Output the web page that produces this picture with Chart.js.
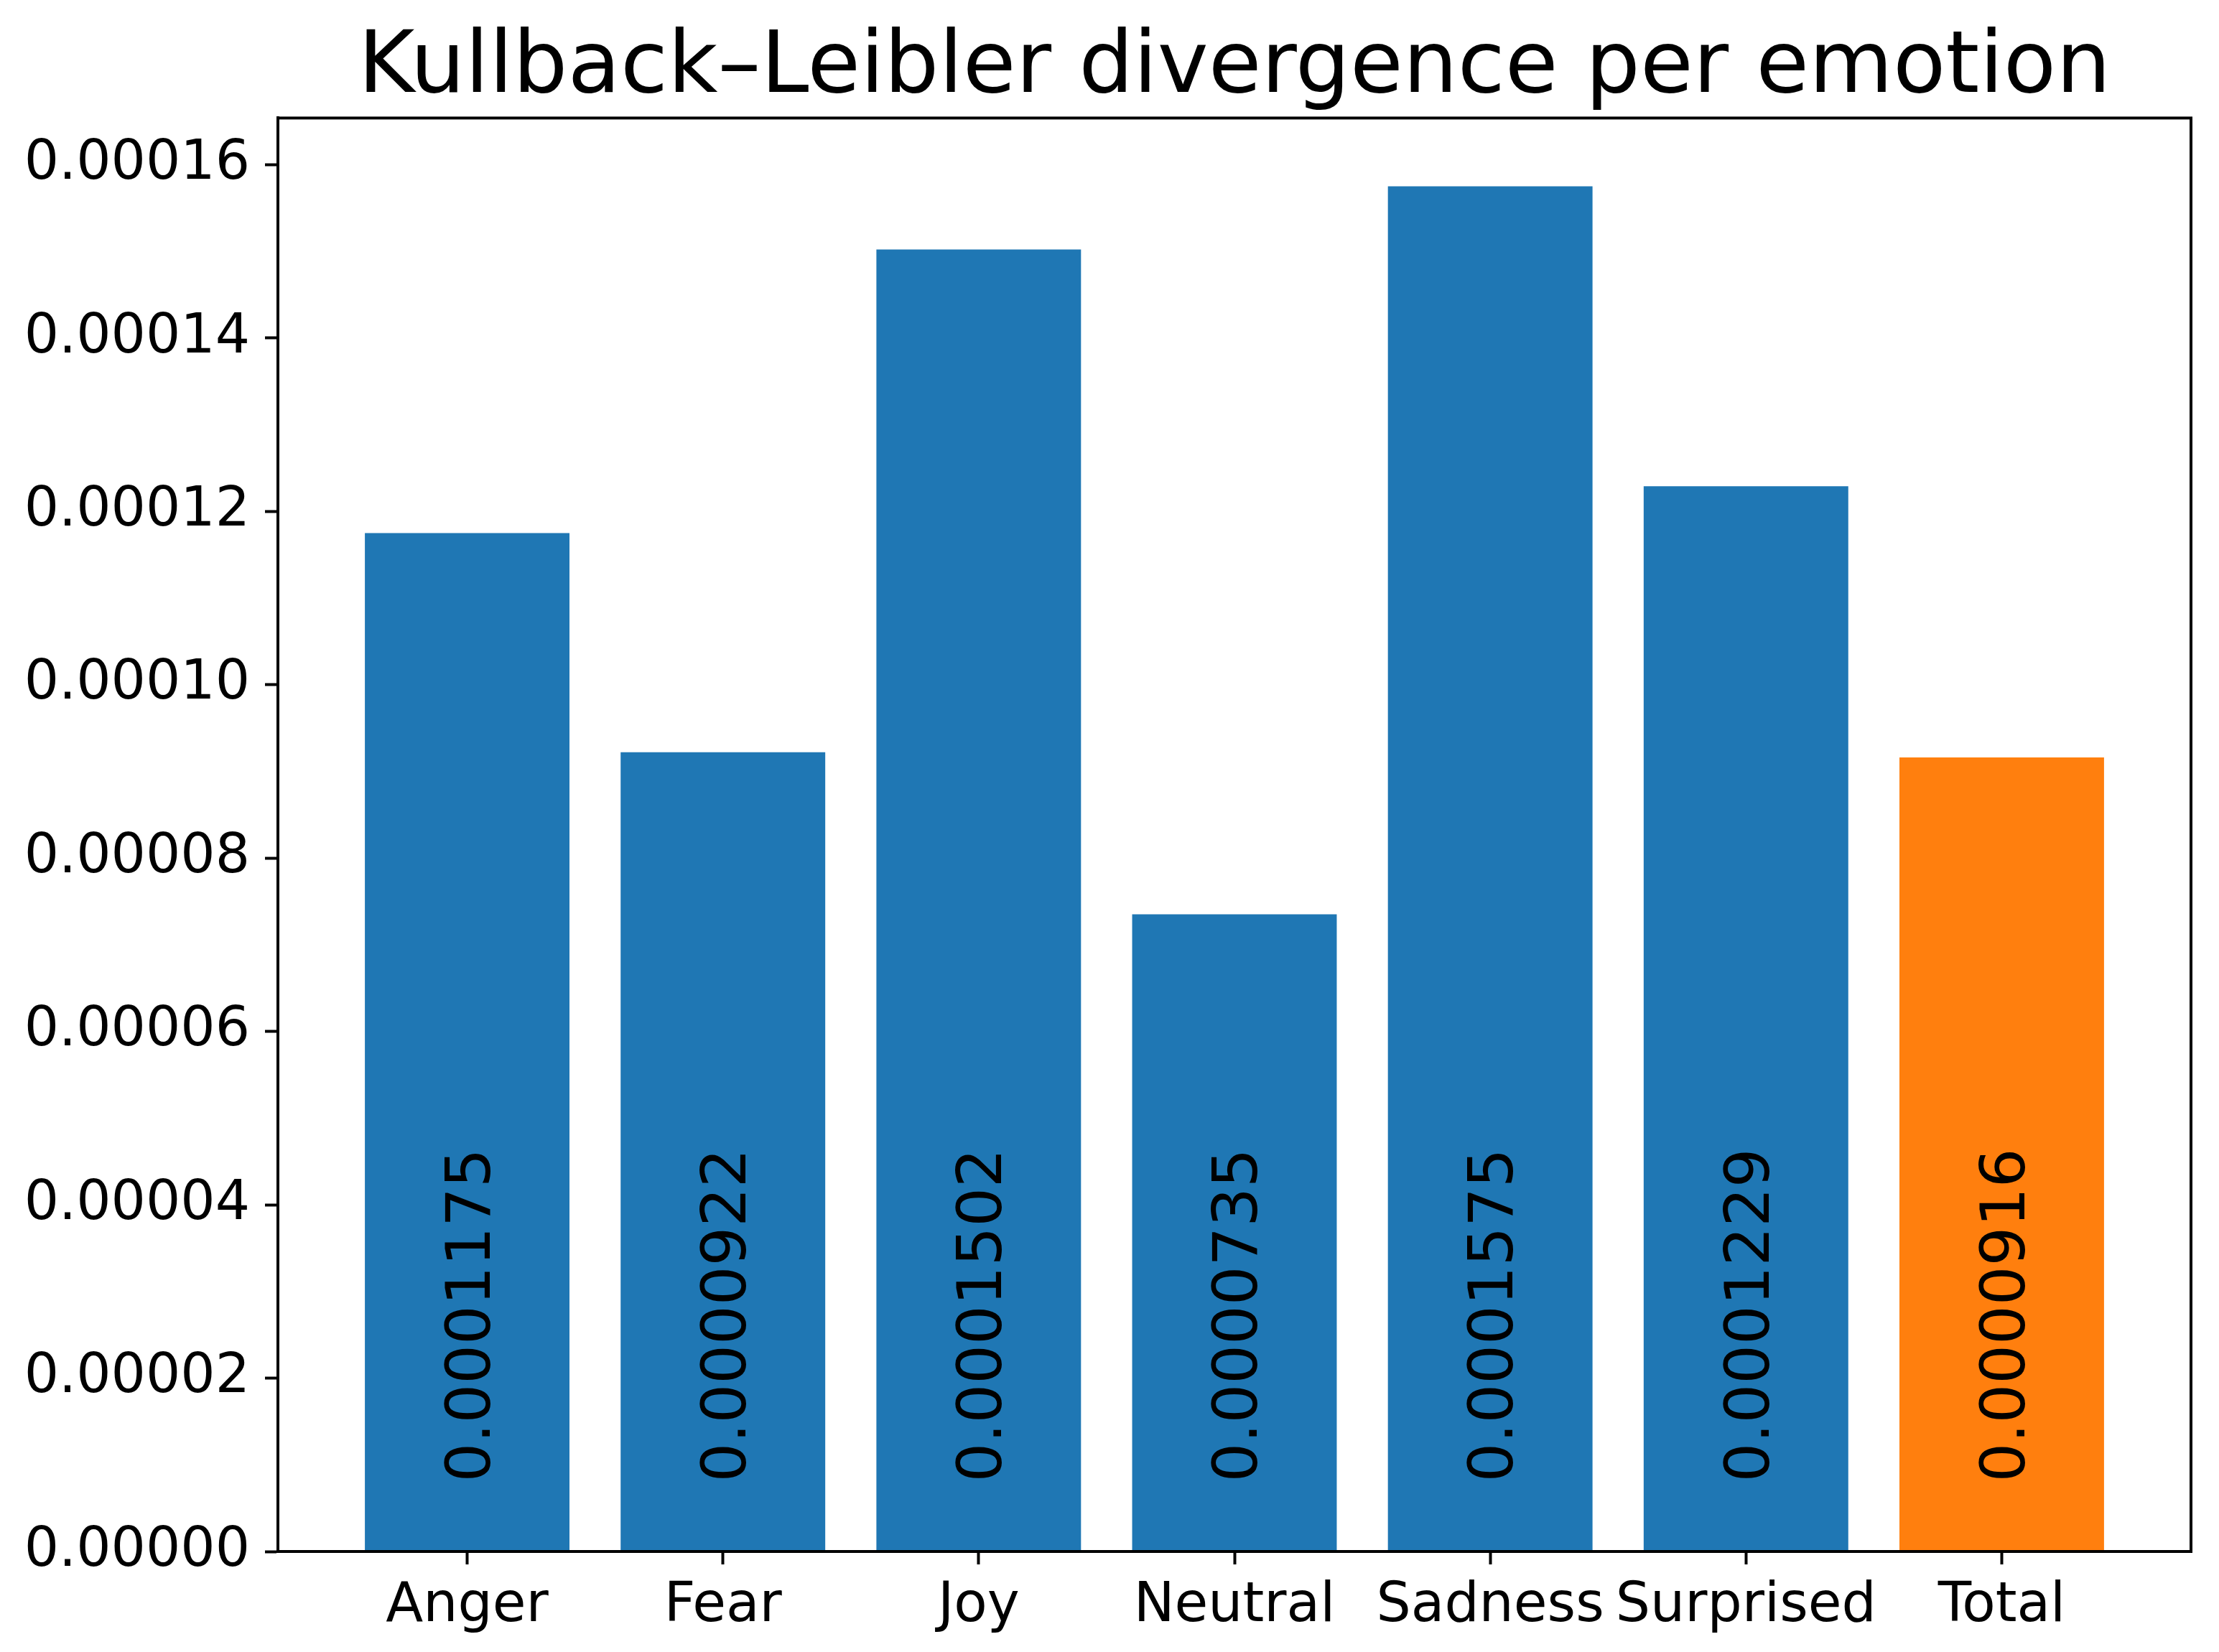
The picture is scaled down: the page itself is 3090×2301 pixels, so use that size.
<!DOCTYPE html>
<html>
<head>
<meta charset="utf-8">
<script src="https://cdn.jsdelivr.net/npm/chart.js@4.4.1/dist/chart.umd.min.js"></script>
<style>
html, body { margin: 0; padding: 0; background: #ffffff; }
canvas { display: block; }
</style>
</head>
<body>
<canvas id="c" width="3090" height="2301" style="width:3090px;height:2301px"></canvas>
<script>
const titleText = 'Kullback–Leibler divergence per emotion';
const categories = ['Anger', 'Fear', 'Joy', 'Neutral', 'Sadness', 'Surprised', 'Total'];
const values = [0.0001175, 0.0000922, 0.0001502, 0.0000735, 0.0001575, 0.0001229, 0.0000916];
const valueLabels = ['0.0001175', '0.0000922', '0.0001502', '0.0000735', '0.0001575', '0.0001229', '0.0000916'];
const barColors = ['#1f77b4', '#1f77b4', '#1f77b4', '#1f77b4', '#1f77b4', '#1f77b4', '#ff7f0e'];
const yTicks = [0, 0.00002, 0.00004, 0.00006, 0.00008, 0.00010, 0.00012, 0.00014, 0.00016];
const yTickLabels = ['0.00000', '0.00002', '0.00004', '0.00006', '0.00008', '0.00010', '0.00012', '0.00014', '0.00016'];

const FONT = '"DejaVu Sans", "Liberation Sans", sans-serif';
const TICK_SIZE = 76;
const LABEL_SIZE = 86;

// matplotlib-like limits: bar width 0.8, 5% margins
const barWidth = 0.8;
const xSpan = (categories.length - 1) + barWidth;
const xMin = -barWidth / 2 - 0.05 * xSpan;
const xMax = (categories.length - 1) + barWidth / 2 + 0.05 * xSpan;
const yMax = Math.max(...values) * 1.05;

const points = values.map((v, i) => ({ x: i, y: v }));

const framePlugin = {
  id: 'frameAndLabels',
  afterDatasetsDraw(chart) {
    const ctx = chart.ctx;
    const a = chart.chartArea;
    const meta = chart.getDatasetMeta(0);
    ctx.save();
    ctx.fillStyle = '#000000';
    ctx.font = LABEL_SIZE + 'px ' + FONT;
    ctx.textAlign = 'left';
    ctx.textBaseline = 'alphabetic';
    meta.data.forEach((bar, i) => {
      ctx.save();
      ctx.translate(bar.x + 0.3645 * LABEL_SIZE, bar.base - 96);
      ctx.rotate(-Math.PI / 2);
      ctx.fillText(valueLabels[i], 0, 0);
      ctx.restore();
    });
    ctx.strokeStyle = '#000000';
    ctx.lineWidth = 4;
    ctx.strokeRect(a.left, a.top, a.right - a.left, a.bottom - a.top);
    ctx.restore();
  }
};

new Chart(document.getElementById('c'), {
  type: 'bar',
  data: {
    datasets: [{
      data: points,
      backgroundColor: barColors,
      borderWidth: 0,
      barPercentage: barWidth,
      categoryPercentage: 1.0
    }]
  },
  options: {
    responsive: false,
    devicePixelRatio: 1,
    animation: false,
    layout: { padding: { top: 30, left: 0, right: 39, bottom: 0 } },
    plugins: {
      legend: { display: false },
      tooltip: { enabled: false },
      title: {
        display: true,
        text: titleText,
        fullSize: false,
        color: '#000000',
        font: { family: FONT, size: 120, weight: 'normal', lineHeight: 1.12 },
        padding: { top: 0, bottom: 0 }
      }
    },
    scales: {
      x: {
        type: 'linear',
        min: xMin,
        max: xMax,
        offset: false,
        afterBuildTicks: (axis) => { axis.ticks = categories.map((c, i) => ({ value: i })); },
        afterFit: (axis) => { axis.height = 140; },
        ticks: {
          color: '#000000',
          font: { family: FONT, size: TICK_SIZE },
          padding: 14,
          maxRotation: 0,
          autoSkip: false,
          callback: (value) => categories[Math.round(value)]
        },
        grid: {
          offset: false,
          drawOnChartArea: false,
          drawTicks: true,
          tickLength: 18,
          tickWidth: 4,
          tickColor: '#000000'
        },
        border: { display: true, color: '#000000', width: 4 }
      },
      y: {
        type: 'linear',
        min: 0,
        max: yMax,
        afterBuildTicks: (axis) => { axis.ticks = yTicks.map(v => ({ value: v })); },
        afterFit: (axis) => { axis.width = 387; },
        ticks: {
          color: '#000000',
          font: { family: FONT, size: TICK_SIZE },
          padding: 21,
          callback: (value, index) => yTickLabels[index]
        },
        grid: {
          drawOnChartArea: false,
          drawTicks: true,
          tickLength: 18,
          tickWidth: 4,
          tickColor: '#000000'
        },
        border: { display: true, color: '#000000', width: 4 }
      }
    }
  },
  plugins: [framePlugin]
});
</script>
</body>
</html>
